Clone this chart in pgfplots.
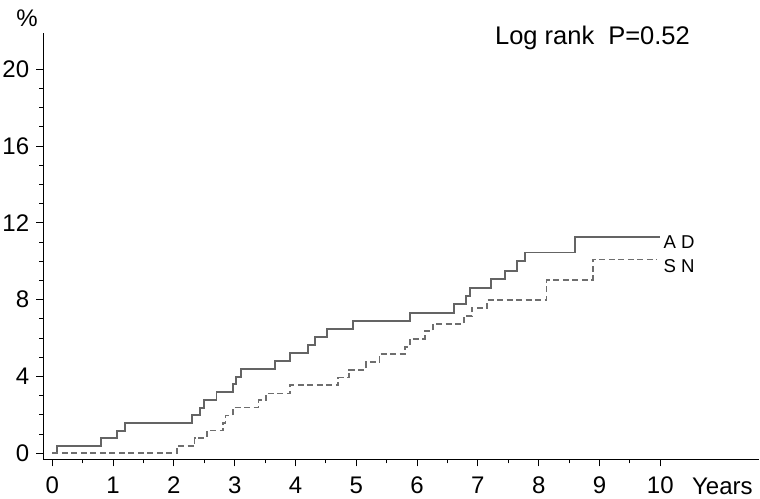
\documentclass[border=0pt]{standalone}
\usepackage{fontspec}
\setmainfont{Liberation Sans}
\usepackage{pgfplots}
\pgfplotsset{compat=1.18}
\definecolor{adcol}{RGB}{100,100,100}
\definecolor{sncol}{RGB}{110,110,110}
\begin{document}
\begin{tikzpicture}
\begin{axis}[
 x=60.8bp, y=19.2bp,
 xmin=-0.148, xmax=11.62, ymin=-0.3125, ymax=21.89,
 axis x line=bottom, axis y line=left,
 axis line style={-, line width=1.5bp, black},
 xtick={0,...,10}, ytick={0,4,...,20},
 minor xtick={0.5,1.5,...,9.5},
 minor ytick={1,2,3,5,6,7,9,10,11,13,14,15,17,18,19},
 tick align=outside,
 major tick length=7bp, minor tick length=4bp,
 every tick/.style={black, line width=0.8bp},
 /pgf/number format/assume math mode=true,
 ticklabel style={font=\fontsize{24bp}{28bp}\selectfont, inner sep=0pt},
 xticklabel style={anchor=base, yshift=-27.5bp},
 yticklabel style={anchor=east, xshift=-7bp},
 clip=false,
]
\addplot[const plot, color=adcol, line width=1.9bp] coordinates {
 (0,0) (0.07,0.38) (0.80,0.78) (1.06,1.16) (1.20,1.58) (2.30,1.98) (2.43,2.38)
 (2.50,2.78) (2.70,3.19) (2.97,3.59) (3.02,3.97) (3.10,4.39) (3.67,4.81)
 (3.91,5.23) (4.20,5.64) (4.32,6.07) (4.52,6.49) (4.95,6.91) (5.88,7.32)
 (6.61,7.78) (6.80,8.21) (6.87,8.63) (7.22,9.06) (7.45,9.50) (7.64,10.0)
 (7.78,10.46) (8.59,11.25) (10.0,11.25)
};
\addplot[const plot, color=sncol, line width=1.7bp, dash pattern=on 6bp off 3.5bp] coordinates {
 (0,0) (2.05,0.38) (2.34,0.80) (2.54,1.18) (2.81,1.58) (2.85,1.97) (2.97,2.38)
 (3.39,2.77) (3.51,3.12) (3.91,3.54) (4.70,3.94) (4.88,4.34) (5.16,4.74)
 (5.38,5.16) (5.80,5.55) (5.88,5.97) (6.13,6.37) (6.26,6.73) (6.77,7.15)
 (6.90,7.57) (7.15,8.0) (8.13,9.03) (8.89,10.1) (9.94,10.1)
};
\node[anchor=west, inner sep=0pt, font=\fontsize{18.6bp}{22bp}\selectfont] at (axis cs:10.05,11.02) {A D};
\node[anchor=west, inner sep=0pt, font=\fontsize{18.6bp}{22bp}\selectfont] at (axis cs:10.05,9.755) {S N};
\node[anchor=base west, inner sep=0pt, font=\fontsize{24bp}{28bp}\selectfont] at (axis cs:10.52,-2.17) {Years};
\node[anchor=center, inner sep=0pt, font=\fontsize{24bp}{28bp}\selectfont] at (axis cs:-0.416,22.65) {\%};
\node[anchor=base west, inner sep=0pt, font=\fontsize{25.5bp}{30bp}\selectfont] at (axis cs:7.28,21.27) {Log rank\hspace{14bp}P=0.52};
\coordinate (bl) at (axis cs:-0.8602,-2.380);
\coordinate (tr) at (axis cs:11.640,23.609);
\end{axis}
\pgfresetboundingbox
\path[use as bounding box] (bl) rectangle (tr);
\end{tikzpicture}
\end{document}
